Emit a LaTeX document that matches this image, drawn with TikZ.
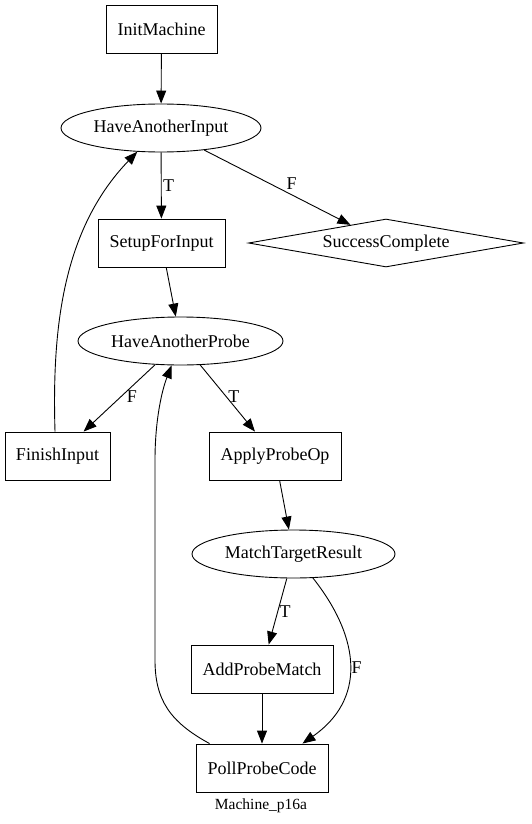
\documentclass[tikz,border=0pt]{standalone}
\usepackage{fontspec}
\setmainfont{Liberation Serif}
\usepackage{tikz}
\usetikzlibrary{shapes,shapes.geometric,arrows.meta,positioning,calc}

\begin{document}
\begin{tikzpicture}[
            x=1pt, y=-1pt,
            font=\fontsize{18}{21}\selectfont,
            box/.style={draw, rectangle, line width=0.9pt, minimum height=48pt, inner sep=0pt},
            test/.style={draw, ellipse, line width=0.9pt, minimum height=48pt, inner sep=0pt},
            done/.style={draw, diamond, aspect=5.7, line width=0.9pt, minimum width=275pt, minimum height=48pt, inner sep=0pt},
            arrow/.style={-{Triangle[length=13pt,width=10pt]}, line width=0.9pt},
            lbl/.style={inner sep=1.5pt}
        ]
            \useasboundingbox (0,0) rectangle (531,824);

            \node[box, minimum width=111pt] (init) at (161.5,29) {InitMachine};
            \node[test, minimum width=200pt] (input) at (161,128) {HaveAnotherInput};
            \node[box, minimum width=127pt] (setup) at (161.5,243) {SetupForInput};
            \node[done] (success) at (386,243) {SuccessComplete};
            \node[test, minimum width=205pt] (probe) at (180.5,341) {HaveAnotherProbe};
            \node[box, minimum width=105pt] (finish) at (57.5,456) {FinishInput};
            \node[box, minimum width=132pt] (apply) at (275,456) {ApplyProbeOp};
            \node[test, minimum width=203pt] (match) at (293.5,554) {MatchTargetResult};
            \node[box, minimum width=142pt] (addmatch) at (262,669) {AddProbeMatch};
            \node[box, minimum width=132pt] (poll) at (262,768) {PollProbeCode};

            \draw[arrow] (init) -- (input);
            \draw[arrow] (input) -- node[lbl, right] {T} (setup);
            \draw[arrow] (input) -- node[lbl, pos=0.55, above, xshift=7pt] {F} (success);
            \draw[arrow] (setup) -- (probe);
            \draw[arrow] (probe) -- node[lbl, pos=0.48, right, xshift=4pt] {F} (finish);
            \draw[arrow] (probe) -- node[lbl, pos=0.48, right] {T} (apply);
            \draw[arrow] (apply) -- (match);
            \draw[arrow] (match) -- node[lbl, pos=0.5, right] {T} (addmatch);
            \draw[arrow] (addmatch) -- (poll);

            % back edges
            \draw[arrow] ([xshift=-2.5pt]finish.north) .. controls (52,330) and (62,230) .. (input.225);
            \draw[arrow] (match.309) .. controls (362,640) and (365,700) .. node[lbl, pos=0.5, right] {F} ([xshift=-26pt]poll.north east);
            \draw[arrow] ([xshift=14pt]poll.north west) .. controls (170,722) and (155,700) .. (155,660)
                -- (155,460) .. controls (155,420) and (162,390) .. (probe.250);

            % Labels
            \node[font=\fontsize{15.5}{18}\selectfont] (title) at (261,806) {Machine\_p16a};
        \end{tikzpicture}
\end{document}
